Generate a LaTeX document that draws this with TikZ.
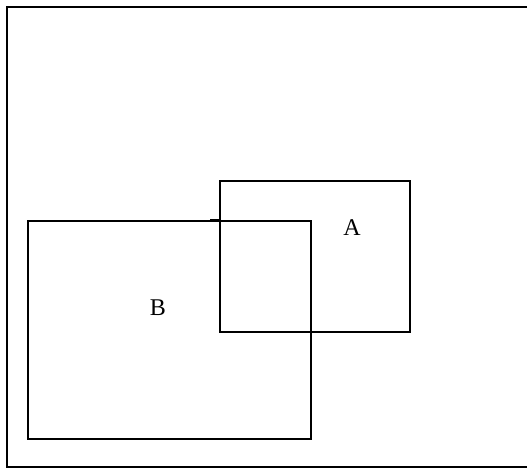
\documentclass[tikz,border=0pt]{standalone}
\usepackage{fontspec}
\setmainfont{Liberation Serif}
\begin{document}
\begin{tikzpicture}[x=1pt,y=-1pt,
  box/.style={draw=black,line width=2pt},
  lbl/.style={inner sep=0pt,font=\fontsize{24}{28}\selectfont}]
\useasboundingbox (0,0) rectangle (527,468);
\begin{scope}
\clip (0,0) rectangle (527,468);
\draw[box] (7,7) rectangle (540,467);
\end{scope}
\draw[box] (220,181) rectangle (410,332);
\draw[box] (28,221) rectangle (311,439);
\coordinate (t1) at (210,219.5);
\coordinate (t2) at (220,219.5);
\draw[line width=2pt] (t1) -- (t2);
\node[lbl] (A) at (352,228) {A};
\node[lbl] (B) at (158,308) {B};
\end{tikzpicture}
\end{document}
